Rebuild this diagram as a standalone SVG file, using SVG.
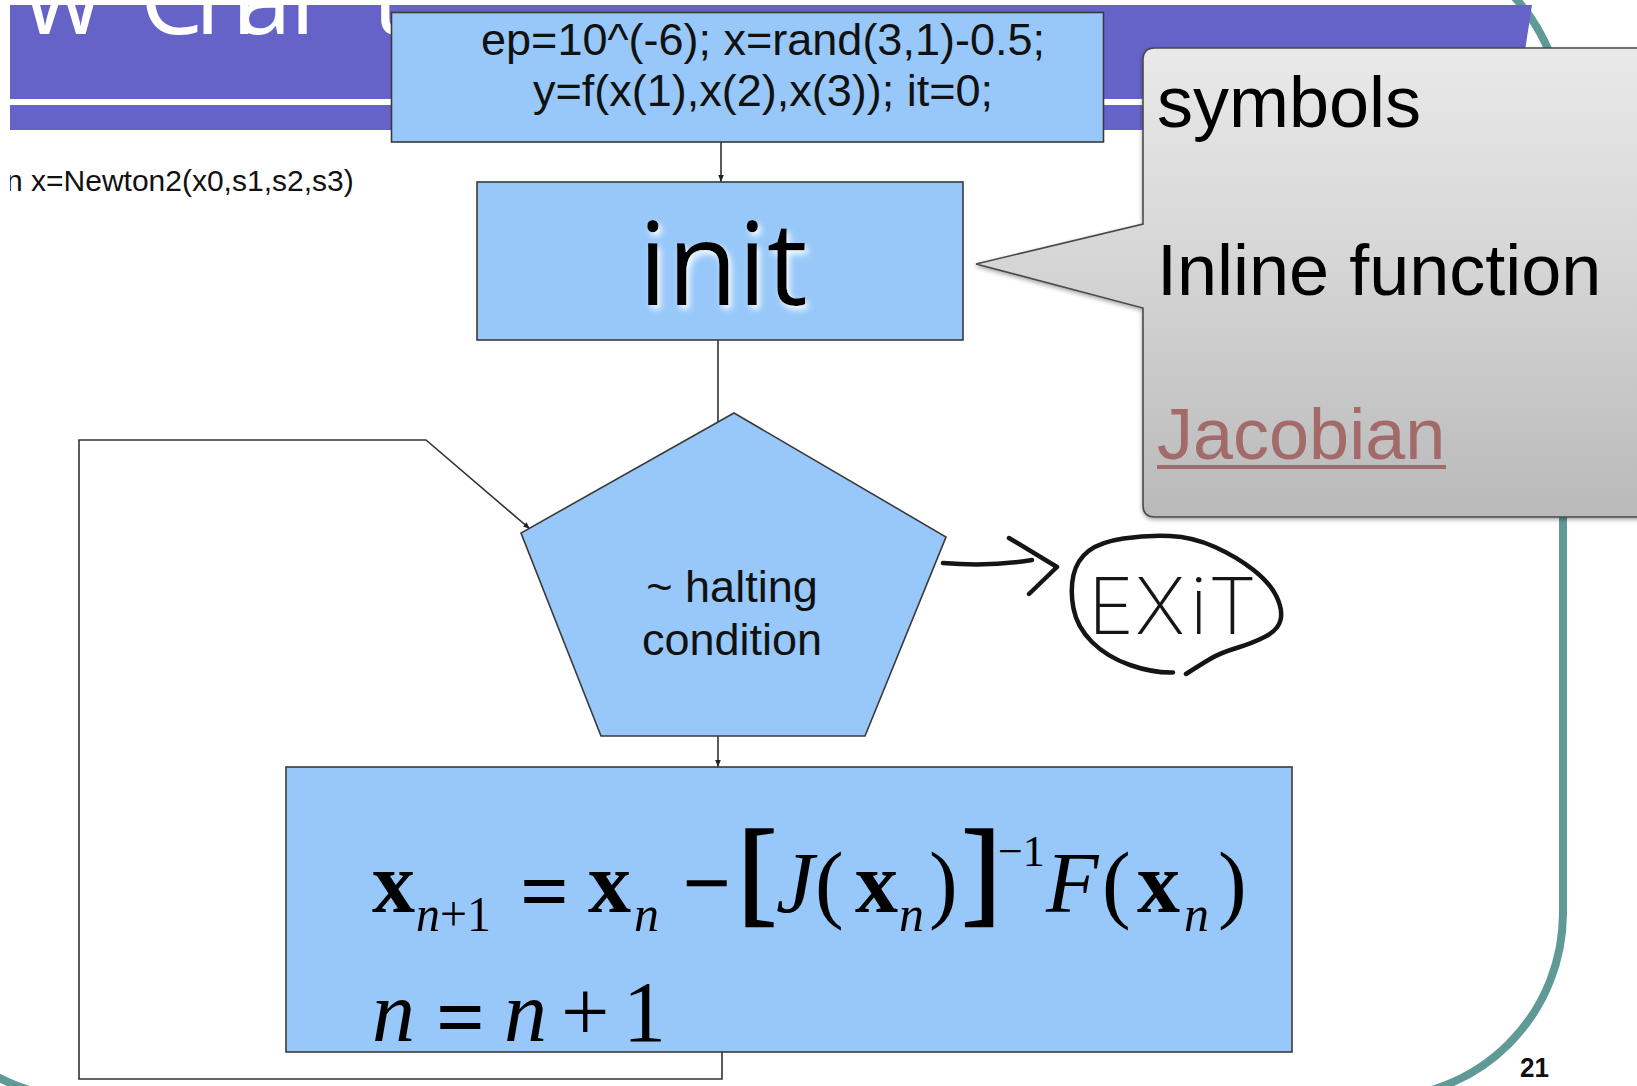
<svg xmlns="http://www.w3.org/2000/svg" width="1637" height="1086" viewBox="0 0 1637 1086">
  <defs>
    <style>
      .box { fill: #97C8F9; stroke: #3a3a3a; stroke-width: 1.6; }
      .conn { fill: none; stroke: #333; stroke-width: 1.6; }
      .ink { fill: none; stroke: #151515; stroke-width: 4.5; stroke-linecap: round; stroke-linejoin: round; }
      .sans { font-family: "Liberation Sans", Arial, sans-serif; }
      .math { font-family: "Liberation Serif", "Times New Roman", serif; fill: #000; }
      .mb { font-weight: bold; font-size: 86px; }
      .mi { font-style: italic; font-size: 86px; }
      .mr { font-size: 86px; }
      .sub { font-style: italic; font-size: 50px; }
      .brk { font-size: 116px; stroke: #000; stroke-width: 2.5; }
      .callout-text { font-family: "Liberation Sans", Arial, sans-serif; font-size: 72px; fill: #000; }
    </style>
    <marker id="arrow" viewBox="0 0 10 10" refX="10" refY="5" markerWidth="7" markerHeight="7" markerUnits="userSpaceOnUse" orient="auto">
      <path d="M0,1 L10,5 L0,9 Z" fill="#222"/>
    </marker>
    <linearGradient id="calloutFill" x1="0" y1="0" x2="0" y2="1">
      <stop offset="0" stop-color="#E9E9E9"/>
      <stop offset="0.45" stop-color="#D6D6D6"/>
      <stop offset="1" stop-color="#B9B9B9"/>
    </linearGradient>
    <filter id="glow" x="-20%" y="-20%" width="150%" height="150%">
      <feGaussianBlur in="SourceAlpha" stdDeviation="3" result="blur"/>
      <feOffset in="blur" dx="3" dy="4" result="off"/>
      <feFlood flood-color="#ffffff" flood-opacity="0.95"/>
      <feComposite in2="off" operator="in" result="halo"/>
      <feMerge>
        <feMergeNode in="halo"/>
        <feMergeNode in="SourceGraphic"/>
      </feMerge>
    </filter>
    <filter id="shadow" x="-5%" y="-5%" width="110%" height="110%">
      <feDropShadow dx="0" dy="2" stdDeviation="2" flood-color="#000" flood-opacity="0.35"/>
    </filter>
    <clipPath id="bannerClip">
      <rect x="10" y="5" width="1530" height="125"/>
    </clipPath>
    <clipPath id="leftClip">
      <rect x="10" y="150" width="600" height="60"/>
    </clipPath>
  </defs>

  <!-- white page -->
  <rect x="0" y="0" width="1637" height="1086" fill="#ffffff"/>

  <!-- teal slide frame -->
  <rect x="-102" y="-63" width="1665" height="1161" rx="185" ry="185" fill="none" stroke="#5F9A97" stroke-width="8"/>

  <!-- title banner -->
  <g id="banner">
    <path d="M10,5 H1532 L1522,70 V130 H10 Z" fill="#6563C8"/>
    <rect x="10" y="99" width="1520" height="6" fill="#ffffff"/>
    <text clip-path="url(#bannerClip)" x="-48 24 100 140 195 236 290 372" y="34" font-family="'Open Sans', 'Liberation Sans', sans-serif" font-size="100" fill="#ffffff">ow Chart</text>
  </g>

  <!-- function signature -->
  <text clip-path="url(#leftClip)" class="sans" x="6" y="191" font-size="30" fill="#111">n x=Newton2(x0,s1,s2,s3)</text>

  <!-- connectors -->
  <g id="connectors">
    <path class="conn" d="M721,142 V182" marker-end="url(#arrow)"/>
    <path class="conn" d="M718,340 V422"/>
    <path class="conn" d="M718,736 V767" marker-end="url(#arrow)"/>
    <path class="conn" d="M722,1052 V1079 H79 V440 H426 L530,529" marker-end="url(#arrow)"/>
  </g>

  <!-- setup box -->
  <g id="setup">
    <rect class="box" x="391.5" y="12.5" width="712" height="129.5"/>
    <text class="sans" x="763" y="55" font-size="45" text-anchor="middle" fill="#111">ep=10^(-6); x=rand(3,1)-0.5;</text>
    <text class="sans" x="763" y="106" font-size="45" text-anchor="middle" fill="#111">y=f(x(1),x(2),x(3)); it=0;</text>
  </g>

  <!-- init box -->
  <g id="init">
    <rect class="box" x="477" y="182" width="486" height="158"/>
    <text x="723" y="305" font-family="'Open Sans', 'DejaVu Sans', sans-serif" font-size="115" text-anchor="middle" fill="#000" filter="url(#glow)">init</text>
  </g>

  <!-- halting test -->
  <g id="halting">
    <polygon class="box" points="734,413 946,537 865,736 601,736 521,533"/>
    <text class="sans" x="732" y="602" font-size="45" text-anchor="middle" fill="#111">~ halting</text>
    <text class="sans" x="732" y="655" font-size="45" text-anchor="middle" fill="#111">condition</text>
  </g>

  <!-- Newton update -->
  <g id="update">
    <rect class="box" x="286" y="767" width="1006" height="285"/>
    <g class="math">
      <text class="mb" x="372" y="912">x</text>
      <text class="sub" x="416" y="931" textLength="75" lengthAdjust="spacingAndGlyphs">n<tspan font-style="normal">+1</tspan></text>
      <text class="mb" x="520" y="920">=</text>
      <text class="mb" x="588" y="912">x</text>
      <text class="sub" x="634" y="931">n</text>
      <text class="mb" x="682" y="912">−</text>
      <text class="brk" x="738" y="910">[</text>
      <text class="mi" x="776" y="912">J</text>
      <text class="mr" x="815" y="912">(</text>
      <text class="mb" x="855" y="912">x</text>
      <text class="sub" x="899" y="931">n</text>
      <text class="mr" x="929" y="912">)</text>
      <text class="brk" x="962" y="910">]</text>
      <text x="998" y="866" font-size="44">−1</text>
      <text class="mi" x="1046" y="912">F</text>
      <text class="mr" x="1102" y="912">(</text>
      <text class="mb" x="1137" y="912">x</text>
      <text class="sub" x="1184" y="931">n</text>
      <text class="mr" x="1218" y="912">)</text>

      <text class="mi" x="372" y="1041">n</text>
      <text class="mb" x="436" y="1046">=</text>
      <text class="mi" x="504" y="1041">n</text>
      <text class="mr" x="561" y="1041">+</text>
      <text class="mr" x="623" y="1041">1</text>
    </g>
  </g>

  <!-- hand-drawn exit -->
  <g id="exit">
    <path class="ink" d="M943,563 Q990,567 1032,560"/>
    <path class="ink" d="M1009,538 L1057,567 L1029,594"/>
    <path class="ink" d="M1173,672.5 Q1153,673 1130,665 Q1107,657 1092,642 Q1077,627 1073.5,608.5 Q1070,590 1073.5,575 Q1077,560 1088.5,551 Q1100,542 1123.5,538.5 Q1147,535 1170,536 Q1193,537 1215,547 Q1237,557 1253.5,570 Q1270,583 1276.5,596.5 Q1283,610 1280.5,620 Q1278,630 1265.5,636.5 Q1253,643 1236.5,648 Q1220,653 1210,659 Q1200,665 1186,674"/>
    <text x="1088 1135 1190 1208" y="634" font-family="Inter, 'DejaVu Sans', sans-serif" font-weight="200" font-size="78" fill="#151515">EXiT</text>
  </g>

  <!-- callout -->
  <g id="callout" filter="url(#shadow)">
    <path d="M1155,48 H1660 V517 H1155 Q1143,517 1143,505 V308 L976,264 L1143,224 V60 Q1143,48 1155,48 Z" fill="url(#calloutFill)" stroke="#4a4a4a" stroke-width="1.6"/>
  </g>
  <g id="callout-text">
    <text class="callout-text" x="1157" y="127">symbols</text>
    <text class="callout-text" x="1157" y="295">Inline function</text>
    <text class="callout-text" x="1157" y="459" style="fill:#A36A6A">Jacobian</text>
    <rect x="1157" y="465" width="289" height="4" fill="#A36A6A"/>
  </g>

  <!-- page number -->
  <text class="sans" x="1520" y="1077" font-size="28" font-weight="bold" fill="#111" textLength="29" lengthAdjust="spacingAndGlyphs">21</text>
</svg>
